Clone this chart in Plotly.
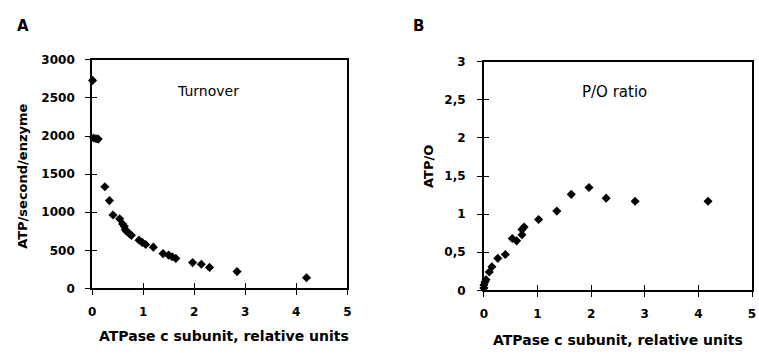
import plotly.graph_objects as go

# ---- data ----
turnover_x = [0.01, 0.03, 0.08, 0.12, 0.25, 0.34, 0.41, 0.54, 0.60, 0.63, 0.65, 0.67, 0.73, 0.77,
              0.92, 0.98, 1.05, 1.20, 1.39, 1.50, 1.57, 1.64, 1.97, 2.14, 2.30, 2.84, 4.20]
turnover_y = [2730, 1975, 1965, 1960, 1335, 1153, 963, 913, 845, 816, 773, 753, 719, 697,
              634, 605, 576, 542, 457, 437, 415, 394, 339, 318, 276, 221, 140]

po_x = [0.0, 0.0, 0.02, 0.04, 0.10, 0.15, 0.26, 0.40, 0.53, 0.61, 0.71, 0.71, 0.75, 1.02,
        1.36, 1.63, 1.96, 2.28, 2.82, 4.18]
po_y = [0.03, 0.07, 0.11, 0.14, 0.24, 0.31, 0.42, 0.47, 0.68, 0.65, 0.73, 0.80, 0.83, 0.93,
        1.04, 1.26, 1.35, 1.21, 1.17, 1.17]

x_ticks = [0, 1, 2, 3, 4, 5]
x_ticktext = ["0", "1", "2", "3", "4", "5"]
a_y_ticks = [0, 500, 1000, 1500, 2000, 2500, 3000]
a_y_ticktext = ["0", "500", "1000", "1500", "2000", "2500", "3000"]
b_y_ticks = [0, 0.5, 1, 1.5, 2, 2.5, 3]
b_y_ticktext = ["0", "0,5", "1", "1,5", "2", "2,5", "3"]

W, H = 759, 355
FONT = "DejaVu Sans, sans-serif"

def px_x(p):
    return p / W

def px_y(p):
    return 1 - p / H

# plot areas in pixels
A_L, A_R, A_T, A_B = 89, 347, 55, 293
B_L, B_R, B_T, B_B = 485, 756, 57, 295

fig = go.Figure()
marker = dict(symbol="diamond", size=7, color="black", line=dict(width=0))
fig.add_trace(go.Scatter(x=turnover_x, y=turnover_y, mode="markers", marker=marker,
                         xaxis="x", yaxis="y", cliponaxis=False, showlegend=False))
fig.add_trace(go.Scatter(x=po_x, y=po_y, mode="markers", marker=marker,
                         xaxis="x2", yaxis="y2", cliponaxis=False, showlegend=False))

tickfont = dict(family=FONT, size=12, color="black", weight="bold")
common = dict(showgrid=False, zeroline=False, showline=True, linecolor="black", linewidth=1.8,
              mirror=True, ticks="outside", ticklen=5, tickwidth=1.2, tickcolor="black",
              tickfont=tickfont, fixedrange=True)
inner = dict(showgrid=False, zeroline=False, showline=False, ticks="inside", ticklen=5,
             tickwidth=1.2, tickcolor="black", showticklabels=False, fixedrange=True)

dA_x = [px_x(A_L), px_x(A_R)]
dA_y = [px_y(A_B), px_y(A_T)]
dB_x = [px_x(B_L), px_x(B_R)]
dB_y = [px_y(B_B), px_y(B_T)]

fig.update_layout(
    width=W, height=H, margin=dict(l=0, r=0, t=0, b=0),
    paper_bgcolor="white", plot_bgcolor="white",
    xaxis=dict(domain=dA_x, anchor="y", range=[0, 5], tickvals=x_ticks, ticktext=x_ticktext,
               ticklabelstandoff=6, **common),
    yaxis=dict(domain=dA_y, anchor="x", range=[0, 3000], tickvals=a_y_ticks, ticktext=a_y_ticktext,
               ticklabelstandoff=8, **common),
    xaxis2=dict(domain=dB_x, anchor="y2", range=[0, 5], tickvals=x_ticks, ticktext=x_ticktext,
                ticklabelstandoff=6, **common),
    yaxis2=dict(domain=dB_y, anchor="x2", range=[0, 3], tickvals=b_y_ticks, ticktext=b_y_ticktext,
                ticklabelstandoff=9, **common),
    xaxis3=dict(overlaying="x", anchor="y", range=[0, 5], tickvals=x_ticks, **inner),
    yaxis3=dict(overlaying="y", anchor="x", range=[0, 3000], tickvals=a_y_ticks, **inner),
    xaxis4=dict(overlaying="x2", anchor="y2", range=[0, 5], tickvals=x_ticks, **inner),
    yaxis4=dict(overlaying="y2", anchor="x2", range=[0, 3], tickvals=b_y_ticks, **inner),
)
# dummy traces so overlay axes render
fig.add_trace(go.Scatter(x=[None], y=[None], xaxis="x3", yaxis="y3", showlegend=False, hoverinfo="skip"))
fig.add_trace(go.Scatter(x=[None], y=[None], xaxis="x4", yaxis="y4", showlegend=False, hoverinfo="skip"))

def ann(text, x, y, size=12, bold=True, angle=0):
    fig.add_annotation(text=("<b>%s</b>" % text) if bold else text,
                       x=px_x(x), y=px_y(y), xref="paper", yref="paper",
                       showarrow=False, textangle=angle, xanchor="center", yanchor="middle",
                       font=dict(family=FONT, size=size, color="black"))

ann("A", 19, 20, size=15)
ann("B", 419, 20, size=15)
ann("Turnover", 206, 87, size=14, bold=False)
ann("P/O ratio", 617, 89, size=15, bold=False)
ann("ATP/second/enzyme", 18, 176, size=13, angle=-90)
ann("ATP/O", 429, 166, size=13, angle=-90)
ann("ATPase c subunit, relative units", 222, 342, size=14)
ann("ATPase c subunit, relative units", 621, 347, size=14)

fig.write_html("out.html")
